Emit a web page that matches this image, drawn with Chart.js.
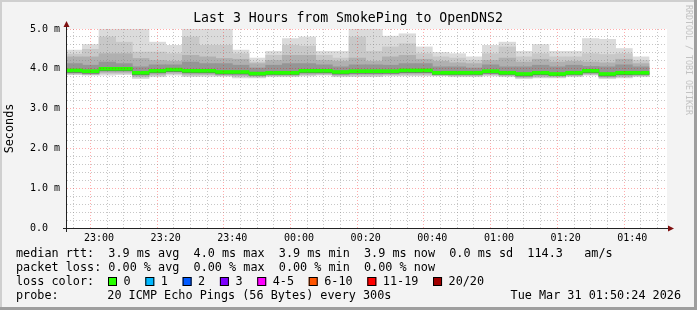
<!DOCTYPE html>
<html>
<head>
<meta charset="utf-8">
<script src="https://cdn.jsdelivr.net/npm/chart.js@4.4.1/dist/chart.umd.min.js"></script>
<style>
    html, body { margin: 0; padding: 0; background: #f3f3f3; }
    #wrap { width: 697px; height: 310px; }
</style>
</head>
<body>
<div id="wrap"><canvas id="smokeChart" width="697" height="310"></canvas></div>
<script>
// 5 minute steps (start of each step)
const slotStarts = ['22:50', '22:55', '23:00', '23:05', '23:10', '23:15', '23:20', '23:25', '23:30', '23:35',
    '23:40', '23:45', '23:50', '23:55', '00:00', '00:05', '00:10', '00:15', '00:20', '00:25',
    '00:30', '00:35', '00:40', '00:45', '00:50', '00:55', '01:00', '01:05', '01:10', '01:15',
    '01:20', '01:25', '01:30', '01:35', '01:40'];

// smoke (ms), outer to inner
const smokeMax = [4.47, 4.61, 4.99, 5.10, 5.10, 4.67, 4.59, 5.10, 5.10, 5.10, 4.47, 4.27, 4.44, 4.76, 4.80, 4.44, 4.44, 5.10,
    5.10, 4.82, 4.88, 4.55, 4.41, 4.38, 4.30, 4.59, 4.67, 4.44, 4.61, 4.44, 4.44, 4.76, 4.74, 4.51, 4.30];
const smokeHi2 = [4.37, 4.49, 4.80, 4.67, 4.42, 4.42, 4.38, 4.80, 4.59, 4.59, 4.38, 4.17, 4.34, 4.59, 4.57, 4.34, 4.27, 4.80,
    4.44, 4.55, 4.63, 4.38, 4.30, 4.27, 4.21, 4.38, 4.55, 4.30, 4.38, 4.30, 4.30, 4.38, 4.36, 4.38, 4.21];
const smokeHi3 = [4.30, 4.30, 4.38, 4.38, 4.26, 4.21, 4.19, 4.34, 4.30, 4.26, 4.24, 4.13, 4.21, 4.34, 4.34, 4.21, 4.19, 4.27,
    4.19, 4.30, 4.34, 4.24, 4.19, 4.15, 4.13, 4.21, 4.27, 4.17, 4.24, 4.17, 4.19, 4.17, 4.15, 4.24, 4.13];
const smokeHi4 = [4.13, 4.09, 4.17, 4.13, 4.05, 4.10, 4.10, 4.17, 4.13, 4.13, 4.09, 4.02, 4.09, 4.13, 4.13, 4.10, 4.05, 4.10,
    4.10, 4.09, 4.13, 4.13, 4.05, 4.05, 4.02, 4.10, 4.05, 4.05, 4.09, 4.05, 4.09, 4.06, 4.05, 4.10, 4.05];
const medianRtt = [3.96, 3.94, 4.00, 4.00, 3.90, 3.95, 3.98, 3.95, 3.95, 3.92, 3.92, 3.88, 3.90, 3.90, 3.95, 3.95, 3.92, 3.94,
    3.94, 3.94, 3.96, 3.96, 3.90, 3.90, 3.90, 3.94, 3.90, 3.87, 3.90, 3.87, 3.90, 3.95, 3.87, 3.90, 3.90];
const smokeLo4 = [3.91, 3.89, 3.95, 3.95, 3.85, 3.90, 3.93, 3.90, 3.90, 3.87, 3.87, 3.84, 3.86, 3.86, 3.90, 3.90, 3.87, 3.89,
    3.89, 3.89, 3.91, 3.91, 3.86, 3.86, 3.86, 3.89, 3.86, 3.82, 3.85, 3.83, 3.86, 3.90, 3.82, 3.85, 3.86];
const smokeLo3 = [3.88, 3.86, 3.91, 3.91, 3.81, 3.86, 3.89, 3.86, 3.86, 3.84, 3.83, 3.81, 3.83, 3.83, 3.86, 3.87, 3.84, 3.85,
    3.85, 3.86, 3.87, 3.87, 3.84, 3.83, 3.83, 3.86, 3.83, 3.79, 3.81, 3.80, 3.83, 3.87, 3.79, 3.81, 3.83];
const smokeLo2 = [3.86, 3.85, 3.88, 3.88, 3.79, 3.83, 3.87, 3.83, 3.84, 3.83, 3.80, 3.79, 3.82, 3.82, 3.84, 3.85, 3.82, 3.82,
    3.82, 3.84, 3.84, 3.84, 3.83, 3.82, 3.82, 3.84, 3.82, 3.77, 3.79, 3.79, 3.82, 3.85, 3.77, 3.79, 3.82];
const smokeMin = [3.85, 3.84, 3.84, 3.85, 3.75, 3.80, 3.84, 3.80, 3.81, 3.81, 3.77, 3.77, 3.80, 3.80, 3.82, 3.84, 3.80, 3.80,
    3.80, 3.82, 3.82, 3.82, 3.82, 3.80, 3.80, 3.82, 3.80, 3.75, 3.77, 3.77, 3.80, 3.84, 3.75, 3.77, 3.80];

const xTickLabels = ['23:00', '23:20', '23:40', '00:00', '00:20', '00:40', '01:00', '01:20', '01:40'];
const yTickLabels = ['0.0  ', '1.0 m', '2.0 m', '3.0 m', '4.0 m', '5.0 m'];
const rangeStart = '22:50:24';
const rangeEnd = '01:50:24';

const titleText = 'Last 3 Hours from SmokePing to OpenDNS2';
const legendLines = [
    'median rtt:  3.9 ms avg  4.0 ms max  3.9 ms min  3.9 ms now  0.0 ms sd  114.3   am/s',
    'packet loss: 0.00 % avg  0.00 % max  0.00 % min  0.00 % now'
];
const lossLabels = ['0', '1', '2', '3', '4-5', '6-10', '11-19', '20/20'];
const lossColors = ['#26ff00', '#00b8ff', '#0059ff', '#7e00ff', '#ff00ff', '#ff5500', '#ff0000', '#a10000'];
const probeText = '20 ICMP Echo Pings (56 Bytes) every 300s';
const dateText = 'Tue Mar 31 01:50:24 2026';

const MONO = '"DejaVu Sans Mono", "Liberation Mono", monospace';

// minutes relative to midnight, evening hours negative
function toMinutes(str) {
    const p = str.split(':').map(Number);
    let m = p[0] * 60 + p[1] + (p[2] || 0) / 60;
    if (p[0] >= 12) m -= 1440;
    return m;
}

const slotCenters = slotStarts.map(s => toMinutes(s) + 2.5);

function band(lo, hi) {
    return slotCenters.map((x, i) => ({ x: x, y: [lo[i], hi[i]] }));
}

function barSet(label, data, color, order) {
    return {
        type: 'bar',
        label: label,
        data: data,
        backgroundColor: color,
        borderWidth: 0,
        grouped: false,
        barPercentage: 1.0,
        categoryPercentage: 1.0,
        order: order
    };
}

const datasets = [
    barSet('median', slotCenters.map((x, i) => ({ x: x, y: [medianRtt[i] - 0.037, medianRtt[i] + 0.037] })), lossColors[0], 0),
    barSet('core', band(smokeLo4, medianRtt), '#686868', 1),
    barSet('smoke4', band(smokeLo4, smokeHi4), '#959595', 2),
    barSet('smoke3', band(smokeLo3, smokeHi3), '#b0b0b0', 3),
    barSet('smoke2', band(smokeLo2, smokeHi2), '#c8c8c8', 4),
    barSet('smoke1', band(smokeMin, smokeMax), '#dbdbdb', 5)
];

const rrdLook = {
    id: 'rrdLook',
    beforeDraw(chart) {
        const ctx = chart.ctx;
        const a = chart.chartArea;
        const W = chart.width, H = chart.height;
        ctx.save();
        ctx.fillStyle = '#f3f3f3';
        ctx.fillRect(0, 0, W, H);
        // frame
        ctx.fillStyle = '#cfcfcf';
        ctx.fillRect(0, 0, W, 2);
        ctx.fillRect(0, 0, 2, H);
        ctx.fillStyle = '#9e9e9e';
        ctx.fillRect(W - 3, 0, 3, H);
        ctx.fillRect(0, H - 3, W, 3);
        ctx.fillStyle = '#ffffff';
        ctx.fillRect(a.left, a.top, a.right - a.left, a.bottom - a.top);
        ctx.restore();
    },
    afterDraw(chart) {
        const ctx = chart.ctx;
        const a = chart.chartArea;
        ctx.save();

        // axes
        ctx.strokeStyle = '#222';
        ctx.lineWidth = 1;
        ctx.beginPath();
        ctx.moveTo(a.left - 0.5, a.bottom + 4);
        ctx.lineTo(a.left - 0.5, a.top - 3);
        ctx.moveTo(a.left - 4, a.bottom + 0.5);
        ctx.lineTo(a.right + 2, a.bottom + 0.5);
        ctx.stroke();
        ctx.fillStyle = '#7f1010';
        ctx.beginPath();
        ctx.moveTo(a.left - 3.5, a.top - 2);
        ctx.lineTo(a.left + 2.5, a.top - 2);
        ctx.lineTo(a.left - 0.5, a.top - 8);
        ctx.closePath();
        ctx.fill();
        ctx.beginPath();
        ctx.moveTo(a.right + 1, a.bottom - 2.5);
        ctx.lineTo(a.right + 1, a.bottom + 3.5);
        ctx.lineTo(a.right + 7, a.bottom + 0.5);
        ctx.closePath();
        ctx.fill();

        // title
        ctx.fillStyle = '#000';
        ctx.textBaseline = 'middle';
        ctx.textAlign = 'center';
        ctx.font = '13.2px ' + MONO;
        ctx.fillText(titleText, 348, 19);

        // legend
        ctx.textAlign = 'left';
        ctx.font = '11.8px ' + MONO;
        ctx.fillText(legendLines[0], 16, 254);
        ctx.fillText(legendLines[1], 16, 268);
        ctx.fillText('loss color:', 16, 282);
        let px = 108;
        lossLabels.forEach((lab, i) => {
            ctx.fillStyle = lossColors[i];
            ctx.fillRect(px, 277, 9, 9);
            ctx.strokeStyle = '#000';
            ctx.strokeRect(px + 0.5, 277.5, 8, 8);
            ctx.fillStyle = '#000';
            ctx.fillText(lab, px + 15.5, 282);
            px += 15.5 + ctx.measureText(lab).width + 14.7;
        });
        ctx.fillText('probe:', 16, 296);
        ctx.fillText(probeText, 107.3, 296);
        ctx.textAlign = 'right';
        ctx.fillText(dateText, 681, 296);

        // watermark
        ctx.translate(688.5, 5);
        ctx.rotate(Math.PI / 2);
        ctx.textAlign = 'left';
        ctx.fillStyle = '#c2c2c2';
        ctx.font = '8.3px ' + MONO;
        ctx.fillText('RRDTOOL / TOBI OETIKER', 0, 0);
        ctx.restore();
    }
};

const majorGrid = 'rgba(255, 0, 0, 0.32)';
const minorGrid = 'rgba(130, 130, 130, 0.45)';

new Chart(document.getElementById('smokeChart'), {
    type: 'bar',
    data: { datasets: datasets },
    options: {
        responsive: false,
        animation: false,
        events: [],
        layout: { padding: { left: 0, right: 30, top: 29, bottom: 62 } },
        plugins: {
            legend: { display: false },
            tooltip: { enabled: false },
            title: { display: false }
        },
        scales: {
            x: {
                type: 'linear',
                min: toMinutes(rangeStart),
                max: toMinutes(rangeEnd),
                offset: false,
                afterFit: s => { s.height = 20; },
                afterBuildTicks: s => {
                    const ticks = [];
                    for (let v = toMinutes('22:55'); v <= toMinutes('01:50'); v += 5) ticks.push({ value: v });
                    s.ticks = ticks;
                },
                grid: {
                    z: 1,
                    drawTicks: false,
                    lineWidth: 1,
                    color: c => (c.tick && Math.round(c.tick.value) % 20 === 0) ? majorGrid : minorGrid
                },
                border: { display: false, dash: [1, 2] },
                ticks: {
                    autoSkip: false,
                    maxRotation: 0,
                    padding: 4,
                    color: '#000',
                    font: { family: MONO, size: 10 },
                    callback: v => {
                        const idx = xTickLabels.findIndex(l => Math.abs(toMinutes(l) - v) < 0.01);
                        return idx >= 0 ? xTickLabels[idx] : '';
                    }
                }
            },
            y: {
                min: 0,
                max: 5,
                afterFit: s => { s.width = 67; },
                grid: {
                    z: 1,
                    drawTicks: false,
                    lineWidth: 1,
                    color: c => {
                        if (!c.tick || c.tick.value === 0) return 'rgba(0,0,0,0)';
                        return Math.abs(c.tick.value - Math.round(c.tick.value)) < 1e-6 ? majorGrid : minorGrid;
                    }
                },
                border: { display: false, dash: [1, 2] },
                title: {
                    display: true,
                    text: 'Seconds',
                    color: '#000',
                    font: { family: MONO, size: 11.8 },
                    padding: { top: 3, bottom: 0 }
                },
                ticks: {
                    stepSize: 0.2,
                    autoSkip: false,
                    padding: 7,
                    color: '#000',
                    font: { family: MONO, size: 10 },
                    callback: v => {
                        const r = Math.round(v);
                        return Math.abs(v - r) < 1e-6 ? yTickLabels[r] : '';
                    }
                }
            }
        }
    },
    plugins: [rrdLook]
});
</script>
</body>
</html>
